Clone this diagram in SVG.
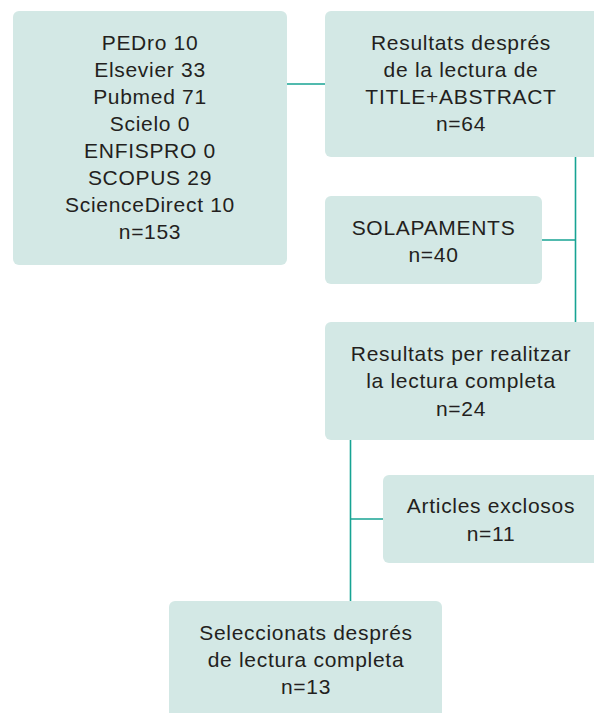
<svg xmlns="http://www.w3.org/2000/svg" width="594" height="713" viewBox="0 0 594 713">
<style>
.box{fill:#d3e8e5}
.t{font-family:"Liberation Sans",Arial,sans-serif;font-size:21px;letter-spacing:0.7px;fill:#231f20;text-anchor:middle}
.c{stroke:#17a393;stroke-width:1.6;fill:none}
</style>
<rect width="594" height="713" fill="#ffffff"/>
<g id="connectors">
<line class="c" x1="287" y1="84" x2="325" y2="84"/>
<line class="c" x1="575.5" y1="157" x2="575.5" y2="322"/>
<line class="c" x1="542" y1="240" x2="575.5" y2="240"/>
<line class="c" x1="350.5" y1="440" x2="350.5" y2="601"/>
<line class="c" x1="350.5" y1="519" x2="383" y2="519"/>
</g>
<g id="sources">
<rect class="box" x="13" y="11" width="274" height="254" rx="6"/>
<text class="t" x="150" y="50">PEDro 10</text>
<text class="t" x="150" y="77">Elsevier 33</text>
<text class="t" x="150" y="104">Pubmed 71</text>
<text class="t" x="150" y="131">Scielo 0</text>
<text class="t" x="150" y="158">ENFISPRO 0</text>
<text class="t" x="150" y="185">SCOPUS 29</text>
<text class="t" x="150" y="212">ScienceDirect 10</text>
<text class="t" x="150" y="239">n=153</text>
</g>
<g id="title-abstract">
<rect class="box" x="325" y="11" width="275" height="146" rx="6"/>
<text class="t" x="461" y="50">Resultats després</text>
<text class="t" x="461" y="77">de la lectura de</text>
<text class="t" x="461" y="104">TITLE+ABSTRACT</text>
<text class="t" x="461" y="131">n=64</text>
</g>
<g id="solapaments">
<rect class="box" x="325" y="196" width="217" height="88" rx="6"/>
<text class="t" x="433.5" y="235">SOLAPAMENTS</text>
<text class="t" x="433.5" y="262">n=40</text>
</g>
<g id="lectura-completa">
<rect class="box" x="325" y="322" width="275" height="118" rx="6"/>
<text class="t" x="461" y="361">Resultats per realitzar</text>
<text class="t" x="461" y="388">la lectura completa</text>
<text class="t" x="461" y="416">n=24</text>
</g>
<g id="exclosos">
<rect class="box" x="383" y="475" width="217" height="88" rx="6"/>
<text class="t" x="491" y="513">Articles exclosos</text>
<text class="t" x="491" y="541">n=11</text>
</g>
<g id="seleccionats">
<rect class="box" x="169" y="601" width="273" height="120" rx="6"/>
<text class="t" x="306" y="640">Seleccionats després</text>
<text class="t" x="306" y="667">de lectura completa</text>
<text class="t" x="306" y="694">n=13</text>
</g>
</svg>
